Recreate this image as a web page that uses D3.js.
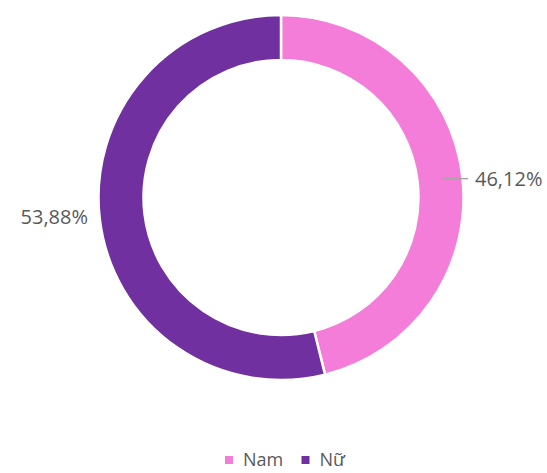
<!DOCTYPE html>
<html>
<head>
<meta charset="utf-8">
<script src="https://cdn.jsdelivr.net/npm/d3@7/dist/d3.min.js"></script>
<style>
    html, body { margin: 0; padding: 0; background: #fff; }
    svg { display: block; font-family: "Open Sans", sans-serif; }
</style>
</head>
<body>
<svg id="chart" width="547" height="473"></svg>
<script>
"use strict";

const categories = ["Nam", "Nữ"];
const values = [46.12, 53.88];
const labels = ["46,12%", "53,88%"];
const colors = ["#F37DD8", "#7030A0"];

const width = 547;
const height = 473;
const cx = 281;
const cy = 197.5;
const outerRadius = 182.5;
const innerRadius = 137.5;

const svg = d3.select("#chart");

const data = categories.map((c, i) => ({category: c, value: values[i], label: labels[i], color: colors[i]}));

const pie = d3.pie()
    .sort(null)
    .value(d => d.value);

const arc = d3.arc()
    .innerRadius(innerRadius)
    .outerRadius(outerRadius);

const arcs = pie(data);

const g = svg.append("g")
    .attr("transform", `translate(${cx}, ${cy})`);

g.selectAll("path")
    .data(arcs)
    .enter()
    .append("path")
    .attr("d", arc)
    .attr("fill", d => d.data.color)
    .attr("stroke", "#fff")
    .attr("stroke-width", 2.5);

// labels: y from a mid radius, x pushed outside the ring
const labelRadius = 155;
function midAngle(d) {
    return (d.startAngle + d.endAngle) / 2;
}

arcs.forEach((d, i) => {
    const a = midAngle(d);
    const right = Math.sin(a) > 0;
    const y = -labelRadius * Math.cos(a);
    if (i === 0) {
        // leader line, only the first label has one
        const r0 = (innerRadius + outerRadius) / 2 + 3;
        const x0 = r0 * Math.sin(a);
        g.append("line")
            .attr("x1", x0)
            .attr("y1", y)
            .attr("x2", right ? 187 : -187)
            .attr("y2", y)
            .attr("stroke", "#A6A6A6")
            .attr("stroke-width", 1.5);
    }
    g.append("text")
        .attr("x", right ? 194 : -193)
        .attr("y", y)
        .attr("dy", "0.36em")
        .attr("text-anchor", right ? "start" : "end")
        .attr("fill", "#595959")
        .attr("font-size", 20)
        .text(d.data.label);
});

// legend
const legend = svg.append("g")
    .attr("transform", "translate(0, 460)");

const legendX = [225, 301.5];
const items = legend.selectAll("g")
    .data(data)
    .enter()
    .append("g")
    .attr("transform", (d, i) => `translate(${legendX[i]}, 0)`);

items.append("rect")
    .attr("x", 0)
    .attr("y", -4)
    .attr("width", 8)
    .attr("height", 8)
    .attr("fill", d => d.color);

items.append("text")
    .attr("x", 18)
    .attr("y", 0)
    .attr("dy", "0.36em")
    .attr("fill", "#595959")
    .attr("font-size", 18)
    .text(d => d.category);
</script>
</body>
</html>
